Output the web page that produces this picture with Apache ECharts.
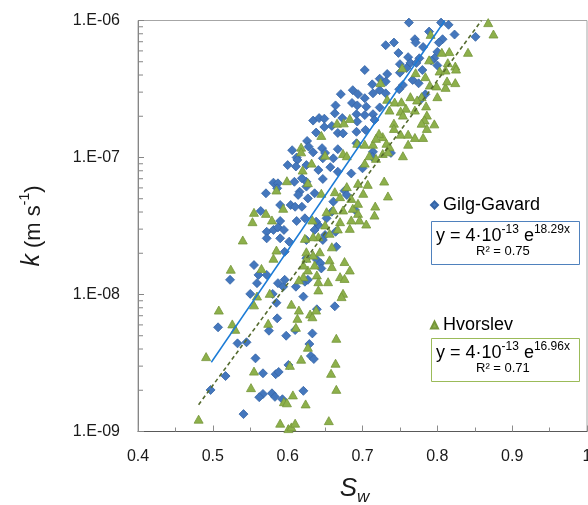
<!DOCTYPE html>
<html>
<head>
<meta charset="utf-8">
<script src="https://cdn.jsdelivr.net/npm/echarts@6/dist/echarts.min.js"></script>
<style>
html,body{margin:0;padding:0;background:#fff;}
#chart{width:588px;height:505px;}
</style>
</head>
<body>
<div id="chart"></div>
<script>
// ---- Data ----
const gilgSw = [0.671,0.687,0.694,0.686,0.693,0.664,0.663,0.634,0.642,0.649,0.673,0.649,0.659,0.692,0.693,0.692,0.638,0.667,0.674,0.626,0.628,0.606,0.634,0.646,0.650,0.667,0.612,0.692,
0.762,0.805,0.815,0.789,0.823,0.851,0.770,0.771,0.807,0.802,0.742,0.731,0.781,0.748,0.761,0.776,0.800,0.796,0.792,0.750,0.764,0.772,0.759,0.780,0.800,0.703,0.750,0.733,0.723,0.731,0.713,0.767,0.775,0.754,0.749,0.723,0.731,0.703,0.714,0.784,0.779,0.705,0.723,0.714,0.703,0.716,0.704,0.714,0.738,0.713,
0.685,0.667,0.647,0.625,0.616,0.636,0.676,0.679,0.661,0.619,0.623,0.652,0.641,0.650,0.664,0.636,0.665,0.647,0.625,0.639,0.644,0.625,0.623,0.627,0.621,0.700,0.647,0.661,0.625,
0.613,0.611,0.600,0.657,0.641,0.619,0.581,0.587,0.609,0.586,0.625,0.571,0.614,0.627,0.590,0.604,0.564,0.610,0.690,0.659,0.590,0.612,0.638,0.572,0.581,0.587,0.595,0.572,0.590,0.602,0.596,0.555,0.561,0.572,0.523,0.559,0.587,0.594,0.596,0.611,0.550,0.580,0.645,
0.585,0.663,0.639,0.507,0.586,0.575,0.610,0.633,0.598,0.533,0.545,0.629,0.631,0.635,0.557,0.601,0.567,0.584,0.588,0.517,0.497,0.567,0.562,0.579,0.583,0.593,0.621,0.541];
const gilgK = [2.9e-7,3.1e-7,2.9e-7,2.5e-7,2.4e-7,2.4e-7,2.1e-7,1.86e-7,1.94e-7,1.92e-7,1.94e-7,1.67e-7,1.70e-7,2.07e-7,1.83e-7,1.54e-7,1.52e-7,1.51e-7,1.50e-7,1.32e-7,1.20e-7,1.13e-7,1.09e-7,1.17e-7,1.08e-7,1.15e-7,1.0e-7,1.27e-7,
9.65e-7,9.65e-7,9.3e-7,8.3e-7,7.9e-7,7.6e-7,7.3e-7,6.9e-7,7.3e-7,6.9e-7,6.9e-7,6.6e-7,6.4e-7,5.8e-7,5.4e-7,5.3e-7,5.9e-7,5.3e-7,5.1e-7,4.8e-7,4.9e-7,4.9e-7,4.5e-7,4.35e-7,4.7e-7,4.35e-7,4.16e-7,4.07e-7,3.76e-7,3.58e-7,3.42e-7,3.68e-7,3.48e-7,3.38e-7,3.15e-7,3.10e-7,2.94e-7,2.71e-7,2.94e-7,2.89e-7,2.69e-7,2.35e-7,2.32e-7,2.07e-7,2.04e-7,1.88e-7,1.59e-7,1.10e-7,1.08e-7,1.01e-7,
7.65e-8,7.87e-8,6.97e-8,6.65e-8,5.63e-8,5.48e-8,5.72e-8,5.33e-8,4.76e-8,4.37e-8,3.60e-8,3.60e-8,3.22e-8,2.72e-8,2.87e-8,2.96e-8,2.23e-8,2.50e-8,2.50e-8,1.79e-8,1.69e-8,1.84e-8,1.24e-8,1.28e-8,9.65e-9,8.34e-8,9.86e-8,9.86e-8,8.8e-8,
9.6e-8,8.6e-8,8.8e-8,8.5e-8,8.1e-8,7.05e-8,6.55e-8,6.48e-8,6.65e-8,5.96e-8,6.13e-8,5.48e-8,5.33e-8,5.03e-8,4.50e-8,4.50e-8,4.07e-8,4.37e-8,4.14e-8,4.02e-8,3.44e-8,3.44e-8,3.40e-8,2.87e-8,2.96e-8,3.09e-8,2.96e-8,2.57e-8,2.57e-8,2.43e-8,2.05e-8,1.64e-8,1.39e-8,1.39e-8,1.28e-8,1.21e-8,1.21e-8,1.14e-8,1.28e-8,1.14e-8,1.01e-8,1.01e-8,1.55e-8,
8.7e-9,8.2e-9,7.8e-9,5.76e-9,6.7e-9,5.44e-9,5.5e-9,5.2e-9,5.0e-9,4.4e-9,4.48e-9,4.35e-9,3.56e-9,3.38e-9,3.42e-9,3.06e-9,2.66e-9,2.62e-9,2.72e-9,2.54e-9,2.01e-9,1.88e-9,1.78e-9,1.90e-9,1.79e-9,1.72e-9,1.98e-9,1.34e-9];

const hvorSw = [0.683,0.666,0.675,0.645,0.618,0.618,0.650,0.674,0.679,0.693,
0.868,0.875,0.791,0.841,0.816,0.806,0.789,0.814,0.824,0.825,0.803,0.811,0.771,0.753,0.784,0.790,0.799,0.811,0.813,0.824,0.800,0.779,0.764,0.773,0.785,0.733,0.743,0.758,0.752,0.736,0.751,0.770,0.754,0.786,0.783,0.779,0.796,0.786,0.742,0.742,0.727,0.751,0.761,0.770,0.781,0.761,0.732,0.736,0.714,0.703,0.722,0.718,0.754,0.727,0.709,0.724,
0.729,0.734,0.717,0.716,0.705,0.694,0.685,0.696,0.683,0.670,0.674,0.687,0.661,0.667,0.656,0.641,0.634,0.659,0.676,0.683,0.670,0.656,0.659,0.625,0.634,0.636,0.627,0.621,0.639,0.641,0.654,0.674,0.672,0.679,0.694,0.707,0.701,0.685,0.663,0.670,0.632,0.703,0.718,0.734,
0.620,0.599,0.585,0.627,0.645,0.594,0.555,0.553,0.571,0.579,0.540,0.633,0.652,0.650,0.623,0.643,0.585,0.581,0.621,0.625,0.524,0.565,0.615,0.641,0.576,0.676,0.694,
0.508,0.555,0.559,0.605,0.615,0.630,0.633,0.638,0.613,0.526,0.530,0.574,0.611,0.665,0.627,0.491,0.618,0.603,0.664,0.555,0.658,0.551,0.665,0.607,0.595,0.599,0.624,0.481,0.590,0.601,0.605,0.610,0.655];
const hvorK = [1.93e-7,1.78e-7,1.79e-7,1.45e-7,1.19e-7,1.10e-7,1.04e-7,1.07e-7,1.03e-7,1.27e-7,
9.65e-7,7.97e-7,7.92e-7,5.86e-7,5.93e-7,5.86e-7,5.16e-7,4.92e-7,4.65e-7,4.42e-7,4.28e-7,4.35e-7,4.16e-7,4.52e-7,3.89e-7,3.38e-7,3.33e-7,3.25e-7,3.62e-7,3.52e-7,2.78e-7,2.78e-7,2.78e-7,2.63e-7,2.38e-7,2.66e-7,2.54e-7,2.29e-7,2.55e-7,2.22e-7,2.18e-7,2.22e-7,2.04e-7,2.04e-7,1.88e-7,1.78e-7,1.76e-7,1.63e-7,1.78e-7,1.63e-7,1.42e-7,1.48e-7,1.48e-7,1.40e-7,1.40e-7,1.25e-7,1.27e-7,1.20e-7,1.25e-7,1.25e-7,1.50e-7,1.38e-7,1.03e-7,1.07e-7,1.03e-7,3.52e-7,
6.73e-8,5.24e-8,4.42e-8,3.80e-8,3.27e-8,3.91e-8,3.50e-8,3.50e-8,3.04e-8,3.40e-8,4.14e-8,4.26e-8,4.14e-8,3.01e-8,2.80e-8,2.64e-8,2.64e-8,2.23e-8,1.74e-8,1.51e-8,1.35e-8,1.79e-8,1.60e-8,2.05e-8,1.94e-8,1.64e-8,1.51e-8,1.35e-8,1.39e-8,1.24e-8,1.24e-8,1.02e-8,9.65e-9,6.13e-8,6.48e-8,6.37e-8,5.48e-8,5.03e-8,5.63e-8,5.18e-8,9.1e-8,9.1e-8,9.86e-8,1.10e-7,
8.1e-8,6.77e-8,5.79e-8,6.55e-8,5.48e-8,4.26e-8,3.98e-8,3.40e-8,3.91e-8,3.50e-8,2.50e-8,3.50e-8,4.02e-8,3.22e-8,2.57e-8,2.05e-8,2.11e-8,1.84e-8,1.64e-8,1.84e-8,1.53e-8,1.55e-8,1.28e-8,1.08e-8,1.02e-8,1.31e-8,4.63e-8,
7.7e-9,8.4e-9,9.75e-9,8.5e-9,7.7e-9,7.2e-9,6.88e-9,7.7e-9,6.7e-9,6.1e-9,5.57e-9,6.16e-9,5.76e-9,4.79e-9,4.12e-9,3.52e-9,3.37e-9,3.04e-9,3.15e-9,2.76e-9,2.66e-9,2.09e-9,2.03e-9,1.85e-9,1.65e-9,1.62e-9,1.59e-9,1.23e-9,1.15e-9,1.05e-9,1.08e-9,1.15e-9,1.20e-9];

// Trend line end points (as drawn in the reference)
const gilgTrendSw = [0.498, 0.81];
const gilgTrendK  = [3.2e-9, 1.0e-6];
const hvorTrendSw = [0.481, 0.859];
const hvorTrendK  = [1.57e-9, 1.0e-6];

// Minor log ticks
const minorTicks = [2e-9,3e-9,4e-9,5e-9,6e-9,7e-9,8e-9,9e-9,2e-8,3e-8,4e-8,5e-8,6e-8,7e-8,8e-8,9e-8,2e-7,3e-7,4e-7,5e-7,6e-7,7e-7,8e-7,9e-7];

const seriesNames = ['Gilg-Gavard', 'Hvorslev'];
const eqGilg = {a: '4', b: '-13', c: '18.29x', r2: '0.75'};
const eqHvor = {a: '4', b: '-13', c: '16.96x', r2: '0.71'};

const zip = (a, b) => a.map((v, i) => [v, b[i]]);
const FONT = 'Liberation Sans, Arial, sans-serif';

const chart = echarts.init(document.getElementById('chart'), null, {renderer: 'canvas'});

function eqText(e) {
  return '{t|y = ' + e.a + '·10}{s|' + e.b + '}{t| e}{s|' + e.c + '}';
}
const eqRich = {
  t: {fontSize: 18, fontFamily: FONT, color: '#000', lineHeight: 22, verticalAlign: 'bottom'},
  s: {fontSize: 12, fontFamily: FONT, color: '#000', lineHeight: 14, verticalAlign: 'top', padding: [1,0,0,0]}
};

const option = {
  animation: false,
  backgroundColor: '#fff',
  grid: {left: 138, right: 1, top: 20.5, bottom: 73.5, containLabel: false, outerBoundsMode: 'none',
    show: true, borderColor: '#A6A6A6', borderWidth: 1, backgroundColor: 'transparent'},
  xAxis: {
    type: 'value', min: 0.4, max: 1.0, interval: 0.1,
    axisLine: {show: true, lineStyle: {color: '#595959', width: 1}},
    axisTick: {show: true, inside: true, length: 6, lineStyle: {color: '#8C8C8C'}},
    minorTick: {show: true, splitNumber: 2, length: 4, lineStyle: {color: '#8C8C8C'}},
    splitLine: {show: false},
    axisLabel: {fontSize: 16, fontFamily: FONT, color: '#1a1a1a', margin: 17,
      formatter: v => (Math.abs(v - 1) < 1e-9 ? '1' : v.toFixed(1)), showMaxLabel: true},
    name: '{i|S}{sub|w}', nameLocation: 'middle', nameGap: 44,
    nameTextStyle: {padding: [0, 16, 0, 0], rich: {
      i: {fontSize: 26, fontStyle: 'italic', fontFamily: FONT, color: '#1a1a1a', lineHeight: 30, verticalAlign: 'top'},
      sub: {fontSize: 17, fontStyle: 'italic', fontFamily: FONT, color: '#1a1a1a', lineHeight: 20, verticalAlign: 'bottom'}
    }}
  },
  yAxis: {
    type: 'log', logBase: 10, min: 1e-9, max: 1e-6, splitNumber: 3,
    axisLine: {show: true, lineStyle: {color: '#868686', width: 1}},
    axisTick: {show: true, inside: true, length: 6, lineStyle: {color: '#868686'}},
    splitLine: {show: false},
    axisLabel: {fontSize: 16, fontFamily: FONT, color: '#1a1a1a', margin: 18,
      formatter: v => { const e = Math.round(Math.log10(v)); return '1.E-' + String(-e).padStart(2, '0'); }},
    name: '{i|k}{n| (m s}{s|-1}{n|)}', nameLocation: 'middle', nameRotate: 90, nameGap: 93,
    nameTextStyle: {rich: {
      i: {fontSize: 25, fontStyle: 'italic', fontFamily: FONT, color: '#1a1a1a', lineHeight: 28, verticalAlign: 'bottom'},
      n: {fontSize: 22, fontFamily: FONT, color: '#1a1a1a', lineHeight: 28, verticalAlign: 'bottom'},
      s: {fontSize: 14, fontFamily: FONT, color: '#1a1a1a', lineHeight: 16, verticalAlign: 'top', padding: [1,0,0,0]}
    }}
  },
  legend: [
    {data: [seriesNames[0]], left: 425, top: 191, itemWidth: 7, itemHeight: 7, itemGap: 0,
      textStyle: {fontSize: 18, fontFamily: FONT, color: '#000'}},
    {data: [seriesNames[1]], left: 425, top: 311, itemWidth: 7, itemHeight: 7, itemGap: 0,
      textStyle: {fontSize: 18, fontFamily: FONT, color: '#000'}}
  ],
  series: [
    {
      name: seriesNames[0], type: 'scatter', data: zip(gilgSw, gilgK),
      symbol: 'diamond', symbolSize: [9, 9],
      itemStyle: {color: '#4477BD', borderColor: '#3565A6', borderWidth: 0.8, opacity: 1},
      z: 2
    },
    {
      name: seriesNames[1], type: 'scatter', data: zip(hvorSw, hvorK),
      symbol: 'triangle', symbolSize: [9, 8],
      itemStyle: {color: '#8DB04B', borderColor: '#76963A', borderWidth: 0.8, opacity: 1},
      z: 3
    },
    {
      name: 'trendG', type: 'line', data: zip(gilgTrendSw, gilgTrendK), symbol: 'none',
      lineStyle: {color: '#1B7BD6', width: 1.5}, z: 4, silent: true
    },
    {
      name: 'trendH', type: 'line', data: zip(hvorTrendSw, hvorTrendK), symbol: 'none',
      lineStyle: {color: '#556B2F', width: 1.6, type: [4, 3]}, z: 4, silent: true
    },
    {
      name: 'minorY', type: 'custom', data: minorTicks.map(v => [0.4, v]), silent: true, z: 5,
      renderItem: (params, api) => {
        const p = api.coord([api.value(0), api.value(1)]);
        return {type: 'line', shape: {x1: p[0], y1: p[1], x2: p[0] + 5, y2: p[1]},
          style: {stroke: '#868686', lineWidth: 1}};
      }
    }
  ],
  graphic: [
    {type: 'rect', left: 431, top: 221, shape: {width: 148, height: 43},
      style: {fill: '#fff', stroke: '#4F81BD', lineWidth: 1}, z: 10},
    {type: 'text', left: 436, top: 223, z: 11,
      style: {text: eqText(eqGilg), rich: eqRich}},
    {type: 'text', left: 476, top: 245, z: 11,
      style: {text: 'R² = ' + eqGilg.r2, fontSize: 13, fontFamily: FONT, fill: '#000'}},
    {type: 'rect', left: 431, top: 338, shape: {width: 148, height: 43},
      style: {fill: '#fff', stroke: '#9BBB59', lineWidth: 1}, z: 10},
    {type: 'text', left: 436, top: 340, z: 11,
      style: {text: eqText(eqHvor), rich: eqRich}},
    {type: 'text', left: 476, top: 362, z: 11,
      style: {text: 'R² = ' + eqHvor.r2, fontSize: 13, fontFamily: FONT, fill: '#000'}}
  ]
};
chart.setOption(option);
</script>
</body>
</html>
